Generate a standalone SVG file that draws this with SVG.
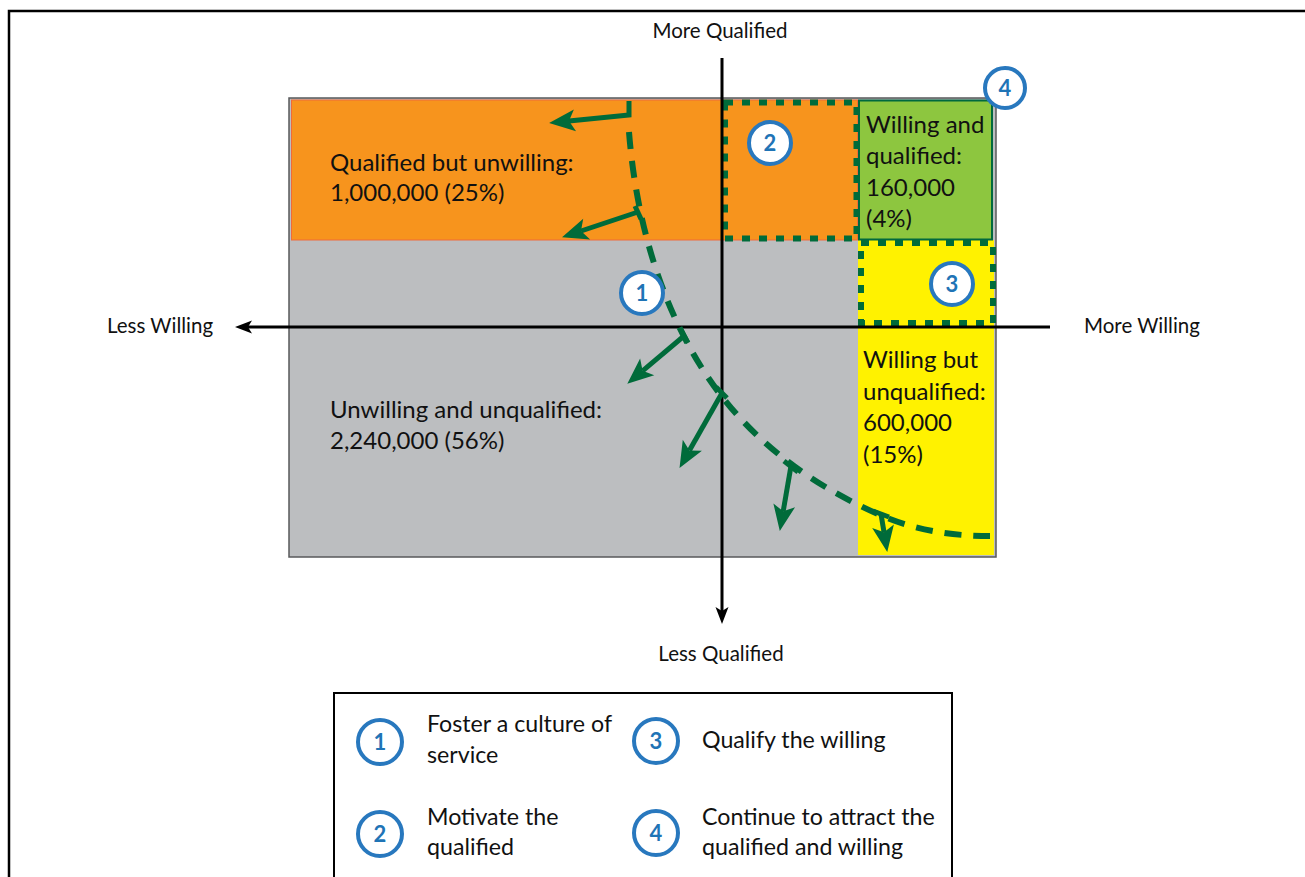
<svg xmlns="http://www.w3.org/2000/svg" width="1305" height="877" viewBox="0 0 1305 877">
<defs>
<style>
.t{font-family:Lato,"Liberation Sans",sans-serif;font-size:24px;fill:#111}
.lt{font-family:Lato,"Liberation Sans",sans-serif;font-size:23.2px;fill:#111}
.ax{font-family:Lato,"Liberation Sans",sans-serif;font-size:20.5px;fill:#111}
.num{font-family:Lato,"Liberation Sans",sans-serif;font-size:22px;font-weight:bold;fill:#1F74B6;text-anchor:middle}
.circ{fill:#ffffff;stroke:#2878BE;stroke-width:4}
.gr{fill:none;stroke:#006B3A;stroke-width:5}
.dash{fill:none;stroke:#006B3A;stroke-width:6;stroke-dasharray:8 9}
</style>
<marker id="gh" viewBox="-7 -12 28 24" markerWidth="28" markerHeight="24" refX="0" refY="0" markerUnits="userSpaceOnUse" orient="auto">
<path d="M20,0 L-6,-11 L0,0 L-6,11 Z" fill="#006B3A"/>
</marker>
<marker id="bh" viewBox="-6 -8 22 16" markerWidth="22" markerHeight="16" refX="0" refY="0" markerUnits="userSpaceOnUse" orient="auto">
<path d="M13,0 L-4,-6.5 L0,0 L-4,6.5 Z" fill="#000"/>
</marker>
</defs>
<rect x="9" y="11" width="1320" height="900" fill="#ffffff" stroke="#000" stroke-width="2.5"/>

<g id="regions">
<rect x="289" y="98" width="707" height="459" fill="#BCBEC0" stroke="#58595B" stroke-width="1.5"/>
<rect id="orange" x="291.5" y="100" width="566" height="140" fill="#F7941D" stroke="#EF6B3A" stroke-width="1"/>
<rect id="yellow" x="858" y="240" width="136" height="315" fill="#FFF200"/>
<rect id="green" x="859" y="100.5" width="133" height="139" fill="#8DC63F" stroke="#00693E" stroke-width="2"/>
<rect id="box2" x="725" y="102.5" width="131.5" height="136" class="dash"/>
<rect id="box3" x="861" y="243" width="132" height="80" class="dash"/>
</g>

<g id="region-labels">
<text class="t" x="330" y="171">Qualified but unwilling:</text>
<text class="t" x="330" y="201">1,000,000 (25%)</text>
<text class="t" x="330" y="418">Unwilling and unqualified:</text>
<text class="t" x="330" y="449">2,240,000 (56%)</text>
<text class="t" x="866" y="133">Willing and</text>
<text class="t" x="866" y="164">qualified:</text>
<text class="t" x="866" y="196">160,000</text>
<text class="t" x="866" y="227">(4%)</text>
<text class="t" x="863" y="368">Willing but</text>
<text class="t" x="863" y="400">unqualified:</text>
<text class="t" x="863" y="431">600,000</text>
<text class="t" x="863" y="463">(15%)</text>
</g>

<g id="axes">
<line x1="722" y1="58" x2="722" y2="611" stroke="#000" stroke-width="3" marker-end="url(#bh)"/>
<line x1="1050" y1="327" x2="248" y2="327" stroke="#000" stroke-width="3" marker-end="url(#bh)"/>
<text class="ax" x="720" y="38" text-anchor="middle">More Qualified</text>
<text class="ax" x="721" y="661" text-anchor="middle">Less Qualified</text>
<text class="ax" x="107" y="333">Less Willing</text>
<text class="ax" x="1084" y="333">More Willing</text>
</g>

<g id="connectors">
<path d="M629,132 C636,220 660,300 700,365 C740,430 800,480 880,515 C915,530 950,536 990,536" fill="none" stroke="#006B3A" stroke-width="6" stroke-dasharray="17 12"/>
<polyline class="gr" points="629,101 629,115 569,121" marker-end="url(#gh)"/>
<line class="gr" x1="635" y1="206" x2="641" y2="219"/>
<line class="gr" x1="638" y1="212" x2="581" y2="231" marker-end="url(#gh)"/>
<line class="gr" x1="681" y1="330" x2="688" y2="343"/>
<line class="gr" x1="684" y1="336" x2="642.6" y2="370.8" marker-end="url(#gh)"/>
<line class="gr" x1="716" y1="387" x2="727" y2="398"/>
<line class="gr" x1="722" y1="393" x2="689.4" y2="450.5" marker-end="url(#gh)"/>
<line class="gr" x1="784" y1="461" x2="798" y2="472"/>
<line class="gr" x1="791" y1="466" x2="783.2" y2="511.3" marker-end="url(#gh)"/>
<line class="gr" x1="873" y1="511" x2="889" y2="517"/>
<line class="gr" x1="881" y1="514" x2="884" y2="532.2" marker-end="url(#gh)"/>
</g>

<g id="marker-1"><circle class="circ" cx="642" cy="293" r="21"/><text class="num" x="642" y="301">1</text></g>
<g id="marker-2"><circle class="circ" cx="770" cy="143" r="21"/><text class="num" x="770" y="151">2</text></g>
<g id="marker-3"><circle class="circ" cx="952" cy="284" r="21"/><text class="num" x="952" y="292">3</text></g>
<g id="marker-4"><circle class="circ" cx="1005" cy="88" r="20"/><text class="num" x="1005" y="96">4</text></g>

<g id="legend">
<rect x="334" y="693" width="618" height="220" fill="#ffffff" stroke="#000" stroke-width="2"/>
<g id="legend-1"><circle class="circ" cx="380" cy="742" r="22"/><text class="num" x="380" y="750">1</text>
<text class="lt" x="427" y="732">Foster a culture of</text><text class="lt" x="427" y="763">service</text></g>
<g id="legend-3"><circle class="circ" cx="656" cy="741" r="22"/><text class="num" x="656" y="749">3</text>
<text class="lt" x="702" y="748">Qualify the willing</text></g>
<g id="legend-2"><circle class="circ" cx="380" cy="834" r="22"/><text class="num" x="380" y="842">2</text>
<text class="lt" x="427" y="825">Motivate the</text><text class="lt" x="427" y="855">qualified</text></g>
<g id="legend-4"><circle class="circ" cx="656" cy="833" r="22"/><text class="num" x="656" y="841">4</text>
<text class="lt" x="702" y="825">Continue to attract the</text><text class="lt" x="702" y="855">qualified and willing</text></g>
</g>
</svg>
